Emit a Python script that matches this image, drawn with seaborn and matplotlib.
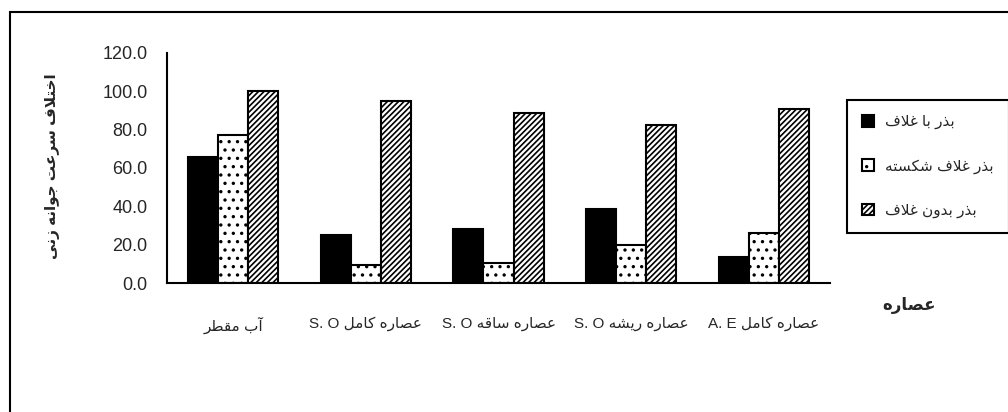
import re
import unicodedata
import numpy as np
import pandas as pd
import matplotlib
matplotlib.use('Agg')
import matplotlib.pyplot as plt
import seaborn as sns
from matplotlib.patches import Rectangle

# data
categories = ['آب مقطر', 'عصاره کامل S. O', 'عصاره ساقه S. O',
              'عصاره ریشه S. O', 'عصاره کامل A. E']
series_names = ['بذر با غلاف', 'بذر غلاف شکسته', 'بذر بدون غلاف']
with_coat = [65.8, 25.3, 28.2, 38.7, 13.8]
broken_coat = [77.0, 9.4, 10.6, 20.0, 26.0]
no_coat = [100.0, 94.8, 88.7, 82.3, 90.6]
y_label = 'اختلاف سرعت جوانه زنی'
x_label = 'عصاره'

# arabic shaping (matplotlib has no complex text layout)
forms = {}
for cp in list(range(0xFB50, 0xFE00)) + list(range(0xFE70, 0xFF00)):
    d = unicodedata.decomposition(chr(cp)).split()
    if len(d) == 2 and d[0] in ('<isolated>', '<final>', '<initial>', '<medial>'):
        forms.setdefault(chr(int(d[1], 16)), {})[d[0][1:-1]] = chr(cp)


def joins_next(c):
    return c in forms and 'initial' in forms[c]


def joins_prev(c):
    return c in forms and 'final' in forms[c]


def shape(s):
    out = []
    i = 0
    n = len(s)
    while i < n:
        c = s[i]
        prev = s[i - 1] if i > 0 else ''
        pj = joins_next(prev) and joins_prev(c)
        if c == 'ل' and i + 1 < n and s[i + 1] == 'ا':
            out.append('\uFEFC' if pj else '\uFEFB')
            i += 2
            continue
        if c not in forms:
            out.append(c)
            i += 1
            continue
        nxt = s[i + 1] if i + 1 < n else ''
        nj = joins_next(c) and joins_prev(nxt)
        f = forms[c]
        if pj and nj and 'medial' in f:
            out.append(f['medial'])
        elif pj and 'final' in f:
            out.append(f['final'])
        elif nj and 'initial' in f:
            out.append(f['initial'])
        else:
            out.append(f.get('isolated', c))
        i += 1
    vis = ''.join(out)[::-1]
    return re.sub(r'[A-Za-z0-9][A-Za-z0-9. ]*[A-Za-z0-9.]', lambda m: m.group(0)[::-1], vis)


df = pd.DataFrame({
    'cat': np.repeat(categories, 3),
    'series': series_names * len(categories),
    'value': np.ravel(np.column_stack([with_coat, broken_coat, no_coat])),
})

sns.set_style('white')
plt.rcParams['font.family'] = ['Liberation Sans', 'DejaVu Sans']
plt.rcParams['hatch.linewidth'] = 1.2

fig = plt.figure(figsize=(10.08, 4.12), dpi=100)
ax = fig.add_axes([0.1657, 0.3131, 0.6577, 0.5583])

sns.barplot(data=df, x='cat', y='value', hue='series', hue_order=series_names,
            order=categories, palette=['black', 'white', 'white'], saturation=1,
            width=0.68, edgecolor='black', linewidth=1.5, legend=False, ax=ax)

for cont, h in zip(ax.containers, [None, '..', '//////']):
    for bar in cont:
        if h:
            bar.set_hatch(h)

ax.set_xlim(-0.5, len(categories) - 0.5)
ax.set_ylim(0, 120)
ax.set_yticks(np.arange(0, 121, 20))
ax.set_yticklabels([f'{v:.1f}' for v in np.arange(0, 121, 20)], fontsize=13)
ax.set_xticks(np.arange(-0.5, len(categories)), labels=[])
ax.set_xticks(np.arange(len(categories)), minor=True)
ax.set_xticklabels([shape(c) for c in categories], minor=True, fontsize=11)
ax.tick_params(axis='x', which='major', direction='out', length=5, width=1.5, color='black')
ax.tick_params(axis='x', which='minor', length=0, pad=24)
ax.tick_params(axis='y', direction='out', length=5, width=1.5, color='black', pad=9)

for side in ['top', 'right']:
    ax.spines[side].set_visible(False)
for side in ['left', 'bottom']:
    ax.spines[side].set_color('black')
    ax.spines[side].set_linewidth(1.5)

ax.set_ylabel(shape(y_label), fontsize=11, fontweight='bold')
ax.yaxis.set_label_coords(-0.161, 0.51)
ax.set_xlabel(shape(x_label), fontsize=12, fontweight='bold')
ax.xaxis.set_label_coords(1.119, -0.06)

leg = fig.legend(ax.containers, [shape(s) for s in series_names],
                 loc='upper left', bbox_to_anchor=(0.840, 0.758), borderaxespad=0,
                 fontsize=11, labelspacing=1.95, borderpad=1.0, handlelength=0.8,
                 handleheight=0.8, handletextpad=0.7, fancybox=False,
                 edgecolor='black', framealpha=1)
leg.get_frame().set_linewidth(1.5)

# outer chart frame
fig.patches.append(Rectangle((0.01, -0.1), 1.2, 1.071, transform=fig.transFigure,
                             fill=False, edgecolor='black', linewidth=1.5))

fig.savefig('out.png', dpi=100)
